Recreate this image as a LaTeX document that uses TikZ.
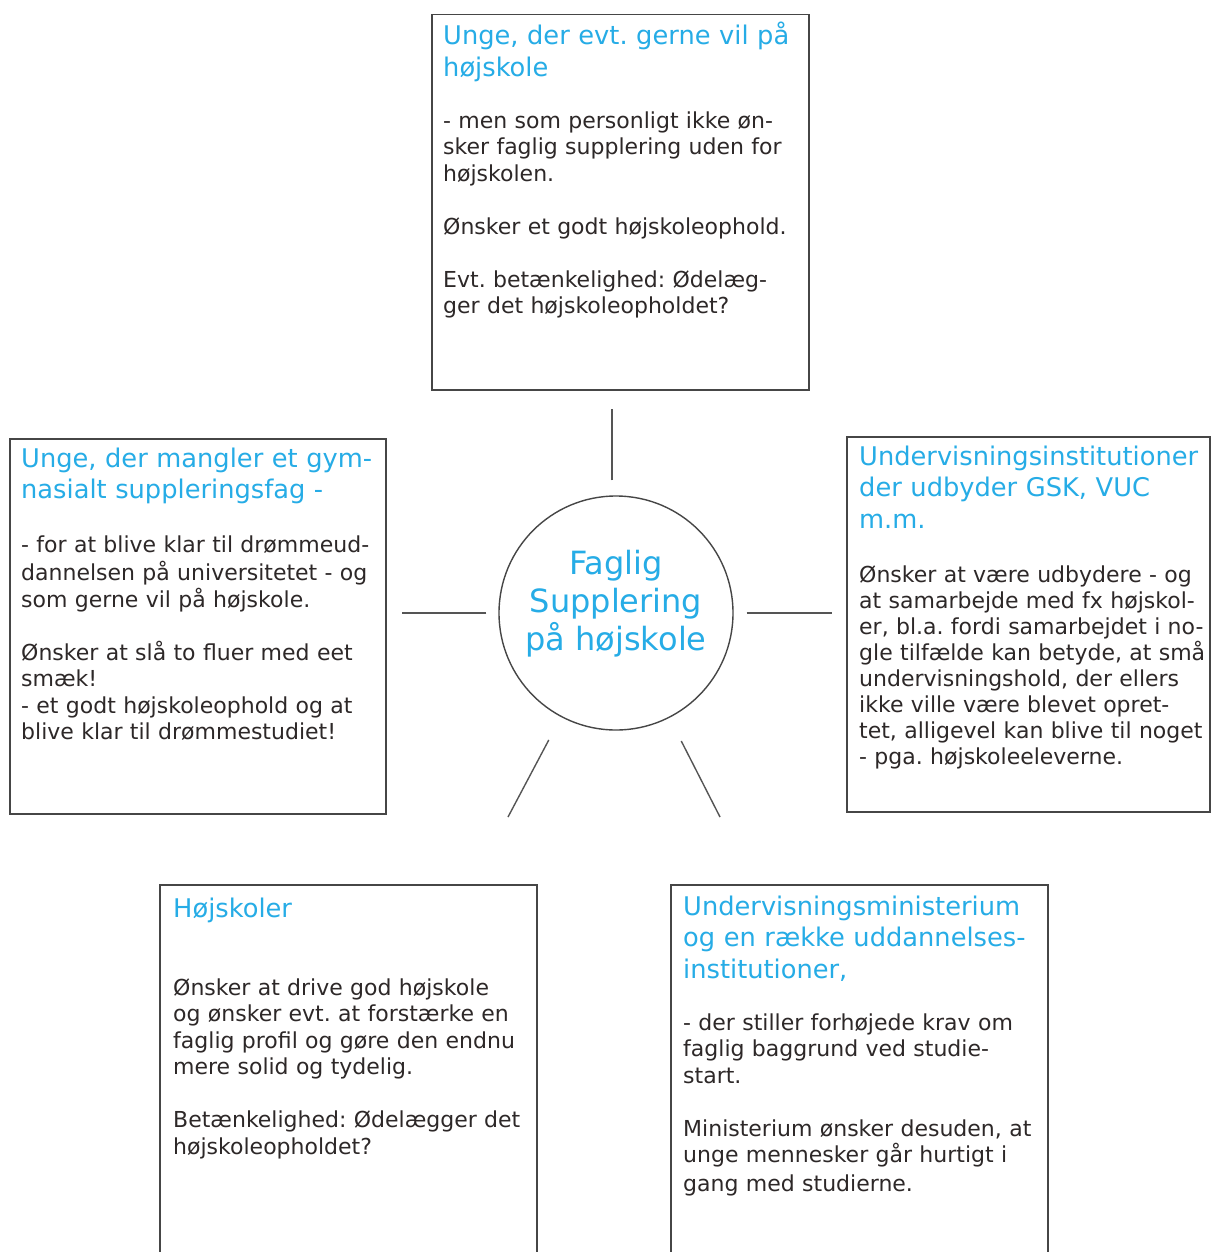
\documentclass[tikz,border=0pt]{standalone}
\usepackage{fontspec}
\setmainfont{DejaVu Sans}
\frenchspacing
\definecolor{ttlblue}{RGB}{38,172,230}
\definecolor{bodygray}{RGB}{45,40,40}
\definecolor{boxgray}{RGB}{70,70,70}
\definecolor{linegray}{RGB}{85,85,85}
\tikzset{
  box/.style={draw=boxgray, line width=1.5pt, rectangle, inner sep=0pt, anchor=north west},
  conn/.style={draw=linegray, line width=1.4pt},
  ttl/.style={anchor=north west, inner sep=0pt, text=ttlblue, align=left, text width=400pt, font=\fontsize{25.7}{31.6}\selectfont},
  bdy/.style={anchor=north west, inner sep=0pt, text=bodygray, align=left, text width=400pt, font=\fontsize{22}{26.5}\selectfont},
  ctext/.style={inner sep=0pt, text=ttlblue, align=center, font=\fontsize{32}{38}\selectfont},
  hub/.style={circle, draw=boxgray, line width=1.4pt, minimum size=234pt, inner sep=0pt}
}
\begin{document}
\begin{tikzpicture}[x=1pt,y=-1pt]
\clip (0,0) rectangle (1211,1252);
\fill[white] (0,0) rectangle (1211,1252);

% boxes
\node[box, minimum width=377pt, minimum height=375pt] (top) at (431,14) {};
\node[box, minimum width=376pt, minimum height=375pt] (left) at (9,438) {};
\node[box, minimum width=363pt, minimum height=375pt] (right) at (846,436) {};
\node[box, minimum width=377pt, minimum height=400pt] (bl) at (159,884) {};
\node[box, minimum width=377pt, minimum height=400pt] (br) at (670,884) {};

% hub
\node[hub] (c) at (616,613) {};
\node[ctext] (ct) at (616,604) {Faglig\\Supplering\\på højskole};

% top box text
\node[ttl] (topT) at (443,21.9) {\strut Unge, der evt. gerne vil på\\højskole};
\node[bdy] (topB) at (443,109.5) {\strut - men som personligt ikke øn-\\sker faglig supplering uden for\\højskolen.\\[26.5pt]Ønsker et godt højskoleophold.\\[26.5pt]Evt. betænkelighed: Ødelæg-\\ger det højskoleopholdet?};

% left box text
\node[ttl] (leftT) at (21,444.9) {\strut Unge, der mangler et gym-\\nasialt suppleringsfag -};
\node[bdy] (leftB) at (21,533.5) {\strut - for at blive klar til drømmeud-\\dannelsen på universitetet - og\\som gerne vil på højskole.\\[26.5pt]Ønsker at slå to fluer med eet\\smæk!\\- et godt højskoleophold og at\\blive klar til drømmestudiet!};

% right box text
\node[ttl] (rightT) at (859,442.9) {\strut Undervisningsinstitutioner\\der udbyder GSK, VUC\\m.m.};
\node[bdy, font=\fontsize{22}{26.1}\selectfont] (rightB) at (859,563.7) {\strut Ønsker at være udbydere - og\\at samarbejde med fx højskol-\\er, bl.a. fordi samarbejdet i no-\\gle tilfælde kan betyde, at små\\undervisningshold, der ellers\\ikke ville være blevet opret-\\tet, alligevel kan blive til noget\\- pga. højskoleeleverne.};

% bottom-left text
\node[ttl] (blT) at (173,894.9) {\strut Højskoler};
\node[bdy] (blB) at (173,976.5) {\strut Ønsker at drive god højskole\\og ønsker evt. at forstærke en\\faglig profil og gøre den endnu\\mere solid og tydelig.\\[26.5pt]Betænkelighed: Ødelægger det\\højskoleopholdet?};

% bottom-right text
\node[ttl] (brT) at (683,892.9) {\strut Undervisningsministerium\\og en række uddannelses-\\institutioner,};
\node[bdy] (brB) at (683,1011.5) {\strut - der stiller forhøjede krav om\\faglig baggrund ved studie-\\start.\\[26.5pt]Ministerium ønsker desuden, at\\unge mennesker går hurtigt i\\[2.5pt]gang med studierne.};

% connectors
\coordinate (pbl) at (508,817);
\coordinate (pbr) at (720,817);
\draw[conn, shorten <=15pt, shorten >=18pt] ([xshift=-4pt]c.north) -- ([xshift=-4pt]c.north |- top.south);
\draw[conn, shorten <=12pt, shorten >=15pt] (c.west) -- (c.west -| left.east);
\draw[conn, shorten <=13pt, shorten >=14pt] (c.east) -- (c.east -| right.west);
\draw[conn, shorten <=26pt] (c) -- (pbl);
\draw[conn, shorten <=26pt] (c) -- (pbr);
\end{tikzpicture}
\end{document}
